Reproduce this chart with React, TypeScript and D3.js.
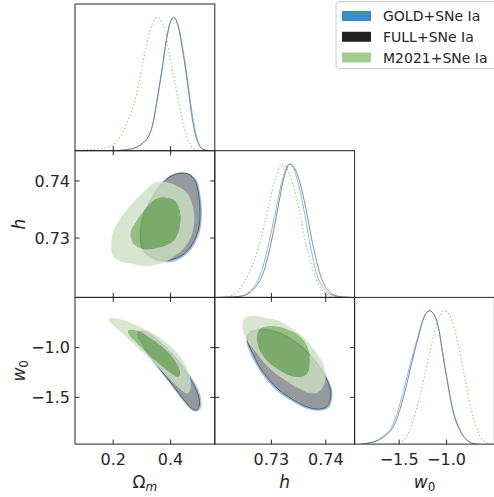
import React from "react";
import * as d3 from "d3";

// ---------- data ----------
const SERIES = ["GOLD+SNe Ia", "FULL+SNe Ia", "M2021+SNe Ia"];
const PARAM_LABELS = ["Ωm", "h", "w0"];
const OMEGA_TICKS = [0.2, 0.4];
const OMEGA_TICK_LABELS = ["0.2", "0.4"];
const H_TICKS = [0.73, 0.74];
const H_TICK_LABELS = ["0.73", "0.74"];
const W0_TICKS = [-1.5, -1.0];
const W0_TICK_LABELS = ["−1.5", "−1.0"];
const OMEGA_LIMITS = [0.0664, 0.5545];
const H_LIMITS = [0.7196, 0.7453];
const W0_LIMITS = [-1.97, -0.495];

// 1D marginals: [value, normalised density]
const OMEGA_GOLD_1D = [[0.2116,0],[0.2349,0.005],[0.2814,0.025],[0.3047,0.06],[0.3221,0.10],[0.3395,0.21],[0.3535,0.38],[0.3686,0.58],[0.3860,0.83],[0.3977,0.95],[0.4116,1.0],[0.4267,0.94],[0.4442,0.75],[0.4616,0.50],[0.4733,0.31],[0.4907,0.11],[0.5140,0.0125],[0.5372,0]];
const OMEGA_FULL_1D = [[0.2116,0],[0.2349,0.005],[0.2814,0.026],[0.3047,0.062],[0.3221,0.105],[0.3395,0.215],[0.3535,0.39],[0.3686,0.59],[0.3860,0.84],[0.3977,0.955],[0.4110,1.0],[0.4260,0.935],[0.4430,0.74],[0.4600,0.49],[0.4715,0.30],[0.4890,0.10],[0.5120,0.012],[0.5350,0]];
const OMEGA_M2021_1D = [[0.0700,0],[0.0953,0.005],[0.1651,0.02],[0.2000,0.045],[0.2465,0.20],[0.2814,0.425],[0.3047,0.675],[0.3279,0.90],[0.3535,1.0],[0.3802,0.90],[0.3977,0.70],[0.4209,0.45],[0.4442,0.20],[0.4674,0.05],[0.4907,0.005],[0.5100,0]];

const H_GOLD_1D = [[0.7205,0],[0.7241,0.008],[0.7266,0.07],[0.7284,0.22],[0.7296,0.42],[0.7309,0.67],[0.7321,0.895],[0.7333,1.0],[0.7345,0.92],[0.7358,0.695],[0.7370,0.42],[0.7382,0.195],[0.7398,0.058],[0.7419,0.008],[0.7440,0]];
const H_FULL_1D = [[0.7207,0],[0.7243,0.008],[0.7269,0.07],[0.7288,0.22],[0.7300,0.42],[0.7312,0.67],[0.7323,0.895],[0.7334,1.0],[0.7348,0.92],[0.7362,0.695],[0.7375,0.42],[0.7388,0.195],[0.7403,0.058],[0.7423,0.008],[0.7445,0]];
const H_M2021_1D = [[0.7200,0],[0.7223,0.008],[0.7247,0.095],[0.7272,0.32],[0.7290,0.595],[0.7306,0.87],[0.7320,1.0],[0.7336,0.895],[0.7349,0.695],[0.7364,0.395],[0.7382,0.145],[0.7401,0.025],[0.7419,0.003],[0.7440,0]];

const W0_GOLD_1D = [[-1.905,0],[-1.8345,0.0075],[-1.6937,0.045],[-1.5528,0.17],[-1.4648,0.37],[-1.3944,0.57],[-1.3063,0.795],[-1.2359,0.9575],[-1.1831,1.0],[-1.1303,0.97],[-1.0775,0.845],[-1.0423,0.695],[-0.9894,0.47],[-0.9366,0.27],[-0.8486,0.095],[-0.7430,0.0125],[-0.6725,0]];
const W0_FULL_1D = [[-1.89,0],[-1.82,0.0075],[-1.68,0.045],[-1.5352,0.17],[-1.4472,0.37],[-1.38,0.57],[-1.30,0.795],[-1.233,0.9575],[-1.18,1.0],[-1.13,0.97],[-1.0775,0.845],[-1.045,0.695],[-0.992,0.47],[-0.94,0.27],[-0.853,0.095],[-0.75,0.0125],[-0.68,0]];
const W0_M2021_1D = [[-1.62,0],[-1.5176,0.0075],[-1.4120,0.07],[-1.3239,0.245],[-1.2535,0.445],[-1.1831,0.67],[-1.0951,0.92],[-1.0176,1.0],[-0.9542,0.945],[-0.8838,0.77],[-0.8134,0.52],[-0.7430,0.27],[-0.6549,0.07],[-0.5669,0.005],[-0.514,0]];

// 2D contours: [x value, y value]
const OMEGA_H_GOLD_95 = [[0.429,0.7414],[0.465,0.7412],[0.490,0.7401],[0.502,0.7377],[0.508,0.7345],[0.502,0.7314],[0.481,0.7288],[0.450,0.7270],[0.406,0.7259],[0.357,0.7260],[0.320,0.7269],[0.298,0.7284],[0.293,0.7304],[0.300,0.7333],[0.323,0.7362],[0.358,0.7390],[0.393,0.7407]];
const OMEGA_H_FULL_95 = [[0.427,0.7413],[0.462,0.7412],[0.485,0.7401],[0.498,0.7377],[0.503,0.7345],[0.498,0.7316],[0.477,0.7290],[0.447,0.7272],[0.403,0.7262],[0.357,0.7262],[0.322,0.7270],[0.300,0.7284],[0.295,0.7304],[0.302,0.7333],[0.326,0.7362],[0.360,0.7388],[0.394,0.7406]];
const OMEGA_H_M2021_95 = [[0.345,0.7397],[0.386,0.7398],[0.421,0.7391],[0.456,0.7380],[0.476,0.7359],[0.483,0.7333],[0.473,0.7304],[0.444,0.7281],[0.398,0.7263],[0.351,0.7253],[0.310,0.7251],[0.264,0.7255],[0.223,0.7259],[0.198,0.7269],[0.193,0.7290],[0.200,0.7312],[0.223,0.7333],[0.258,0.7356],[0.299,0.7377]];
const OMEGA_H_M2021_68 = [[0.374,0.7371],[0.415,0.7365],[0.433,0.7345],[0.430,0.7316],[0.409,0.7295],[0.363,0.7284],[0.305,0.7281],[0.270,0.7290],[0.260,0.7310],[0.281,0.7330],[0.316,0.7353],[0.345,0.7367]];

const OMEGA_W0_GOLD_95 = [[0.287,-0.840],[0.312,-0.837],[0.342,-0.887],[0.400,-1.037],[0.448,-1.203],[0.490,-1.390],[0.505,-1.517],[0.504,-1.607],[0.493,-1.637],[0.472,-1.620],[0.442,-1.523],[0.407,-1.390],[0.361,-1.223],[0.326,-1.090],[0.302,-0.970],[0.286,-0.893]];
const OMEGA_W0_FULL_95 = [[0.287,-0.847],[0.310,-0.843],[0.340,-0.893],[0.398,-1.043],[0.444,-1.210],[0.485,-1.393],[0.500,-1.517],[0.499,-1.600],[0.491,-1.627],[0.473,-1.610],[0.444,-1.517],[0.409,-1.383],[0.363,-1.217],[0.328,-1.083],[0.305,-0.967],[0.288,-0.890]];
const OMEGA_W0_M2021_95 = [[0.183,-0.710],[0.212,-0.707],[0.252,-0.740],[0.293,-0.790],[0.340,-0.860],[0.386,-0.950],[0.427,-1.067],[0.456,-1.200],[0.470,-1.333],[0.467,-1.440],[0.456,-1.460],[0.427,-1.400],[0.392,-1.300],[0.351,-1.183],[0.310,-1.067],[0.270,-0.960],[0.229,-0.850],[0.194,-0.760]];
const OMEGA_W0_M2021_68 = [[0.252,-0.827],[0.287,-0.833],[0.334,-0.917],[0.380,-1.017],[0.415,-1.133],[0.433,-1.250],[0.427,-1.293],[0.403,-1.260],[0.363,-1.167],[0.322,-1.067],[0.281,-0.950],[0.256,-0.873]];

const H_W0_GOLD_95 = [[0.7257,-0.860],[0.7271,-0.820],[0.7293,-0.817],[0.7325,-0.870],[0.7368,-1.043],[0.7399,-1.273],[0.7411,-1.433],[0.7410,-1.533],[0.7404,-1.607],[0.7385,-1.630],[0.7363,-1.607],[0.7347,-1.563],[0.7310,-1.430],[0.7279,-1.227],[0.7260,-1.033],[0.7255,-0.933]];
const H_W0_FULL_95 = [[0.7258,-0.860],[0.7272,-0.827],[0.7293,-0.823],[0.7324,-0.877],[0.7367,-1.050],[0.7398,-1.277],[0.7409,-1.433],[0.7408,-1.527],[0.7402,-1.593],[0.7385,-1.617],[0.7364,-1.593],[0.7348,-1.550],[0.7312,-1.417],[0.7281,-1.217],[0.7263,-1.027],[0.7256,-0.933]];
const H_W0_M2021_95 = [[0.7250,-0.707],[0.7266,-0.680],[0.7290,-0.700],[0.7315,-0.733],[0.7336,-0.800],[0.7358,-0.890],[0.7376,-1.000],[0.7391,-1.117],[0.7399,-1.233],[0.7398,-1.350],[0.7388,-1.440],[0.7373,-1.460],[0.7355,-1.423],[0.7324,-1.323],[0.7293,-1.190],[0.7272,-1.050],[0.7256,-0.933],[0.7248,-0.833],[0.7247,-0.750]];
const H_W0_M2021_68 = [[0.7278,-0.817],[0.7299,-0.783],[0.7327,-0.810],[0.7352,-0.883],[0.7367,-1.000],[0.7370,-1.133],[0.7367,-1.250],[0.7355,-1.293],[0.7336,-1.283],[0.7312,-1.217],[0.7290,-1.117],[0.7278,-1.017],[0.7274,-0.900]];

// ---------- layout & style ----------
const W = 494, H = 497;
const LEFT = 75, TOP = 4, CW = 139.8, CH = 146.7;
const FONT = "DejaVu Sans, sans-serif";
const AX = "#262626";
const BLUE_FILL = "#9ccbe8", BLUE_LINE = "#78b4de";
const GRAY_FILL = "#96999d", GRAY_LINE = "#3f4a56";
const GREEN_OUT = "#cce0c2", GREEN_IN = "#75ad5f", GREEN_ALPHA = 0.78;
const LEGEND_COLORS = ["#3b8cc3", "#222222", "#a3cd8c"];

const LIMITS = [OMEGA_LIMITS, H_LIMITS, W0_LIMITS];
const TICKS = [OMEGA_TICKS, H_TICKS, W0_TICKS];
const TICK_LABELS = [OMEGA_TICK_LABELS, H_TICK_LABELS, W0_TICK_LABELS];
const MARGINALS = [
  [OMEGA_GOLD_1D, OMEGA_FULL_1D, OMEGA_M2021_1D],
  [H_GOLD_1D, H_FULL_1D, H_M2021_1D],
  [W0_GOLD_1D, W0_FULL_1D, W0_M2021_1D],
];
const CONTOURS: Record<string, any> = {
  "1-0": { gold: OMEGA_H_GOLD_95, full: OMEGA_H_FULL_95, m95: OMEGA_H_M2021_95, m68: OMEGA_H_M2021_68 },
  "2-0": { gold: OMEGA_W0_GOLD_95, full: OMEGA_W0_FULL_95, m95: OMEGA_W0_M2021_95, m68: OMEGA_W0_M2021_68 },
  "2-1": { gold: H_W0_GOLD_95, full: H_W0_FULL_95, m95: H_W0_M2021_95, m68: H_W0_M2021_68 },
};

const xScale = (c: number) => d3.scaleLinear().domain(LIMITS[c]).range([LEFT + c * CW, LEFT + (c + 1) * CW]);
const yScale = (r: number) => d3.scaleLinear().domain(LIMITS[r]).range([TOP + (r + 1) * CH, TOP + r * CH]);
const yDens = (r: number) => d3.scaleLinear().domain([0, 1.1]).range([TOP + (r + 1) * CH, TOP + r * CH]);

function Panel({ r, c }: { r: number; c: number }) {
  const x = xScale(c);
  const x0 = LEFT + c * CW, y0 = TOP + r * CH;
  const id = `clip-${r}-${c}`;
  const TL = 4.5;
  const ticks: any[] = [];
  const diag = r === c;
  TICKS[c].forEach((t, i) => {
    const px = x(t);
    ticks.push(<line key={`xb${i}`} x1={px} x2={px} y1={y0 + CH} y2={y0 + CH - TL} stroke={AX} strokeWidth={1} />);
    if (!diag) ticks.push(<line key={`xt${i}`} x1={px} x2={px} y1={y0} y2={y0 + TL} stroke={AX} strokeWidth={1} />);
  });
  let content: any = null;
  if (diag) {
    const yd = yDens(r);
    const line = d3.line<number[]>().x((d) => x(d[0])).y((d) => yd(d[1])).curve(d3.curveMonotoneX);
    const [g, f, m] = MARGINALS[r];
    content = (
      <g clipPath={`url(#${id})`}>
        <path d={line(g as any) || ""} fill="none" stroke={BLUE_LINE} strokeWidth={0.9} />
        <path d={line(f as any) || ""} fill="none" stroke="#6b7076" strokeWidth={0.8} />
        <path d={line(m as any) || ""} fill="none" stroke="#93c878" strokeWidth={1.2} strokeDasharray="1.2,2.4" />
      </g>
    );
  } else {
    const y = yScale(r);
    TICKS[r].forEach((t, i) => {
      const py = y(t);
      ticks.push(<line key={`yl${i}`} x1={x0} x2={x0 + TL} y1={py} y2={py} stroke={AX} strokeWidth={1} />);
      ticks.push(<line key={`yr${i}`} x1={x0 + CW} x2={x0 + CW - TL} y1={py} y2={py} stroke={AX} strokeWidth={1} />);
    });
    const cl = d3.line<number[]>().x((d) => x(d[0])).y((d) => y(d[1])).curve(d3.curveCatmullRomClosed.alpha(0.5));
    const C = CONTOURS[`${r}-${c}`];
    content = (
      <g clipPath={`url(#${id})`}>
        <path d={cl(C.gold) || ""} fill={BLUE_FILL} stroke={BLUE_LINE} strokeWidth={0.7} />
        <path d={cl(C.full) || ""} fill={GRAY_FILL} stroke={GRAY_LINE} strokeWidth={0.8} />
        <path d={(cl(C.m95) || "") + (cl(C.m68) || "")} fill={GREEN_OUT} fillRule="evenodd" fillOpacity={GREEN_ALPHA} />
        <path d={cl(C.m68) || ""} fill={GREEN_IN} fillOpacity={GREEN_ALPHA} />
      </g>
    );
  }
  return (
    <g>
      <defs>
        <clipPath id={id}>
          <rect x={x0} y={y0} width={CW} height={CH} />
        </clipPath>
      </defs>
      {content}
      {ticks}
      <rect x={x0} y={y0} width={CW} height={CH} fill="none" stroke={AX} strokeWidth={1} />
    </g>
  );
}

export default function App() {
  const panels: any[] = [];
  for (let r = 0; r < 3; r++) for (let c = 0; c <= r; c++) panels.push(<Panel key={`${r}-${c}`} r={r} c={c} />);
  const bottom = TOP + 3 * CH;
  return (
    <svg width={W} height={H} style={{ position: "absolute", left: 0, top: 0, background: "#fff" }} fontFamily={FONT}>
      <rect x={0} y={0} width={W} height={H} fill="#fff" />
      {panels}
      {[0, 1, 2].map((c) => {
        const x = xScale(c);
        return TICKS[c].map((t, i) => (
          <text key={`xl${c}${i}`} x={x(t)} y={bottom + 21} fontSize={16} textAnchor="middle" fill={AX}>{TICK_LABELS[c][i]}</text>
        ));
      })}
      {[1, 2].map((r) => {
        const y = yScale(r);
        return TICKS[r].map((t, i) => (
          <text key={`yl${r}${i}`} x={LEFT - 5} y={y(t)} dy="0.36em" fontSize={16} textAnchor="end" fill={AX}>{TICK_LABELS[r][i]}</text>
        ));
      })}
      <text x={LEFT + 0.5 * CW} y={bottom + 44} fontSize={17} textAnchor="middle" fill={AX}>
        <tspan>Ω</tspan><tspan fontStyle="italic" fontSize={12} dy={3}>m</tspan>
      </text>
      <text x={LEFT + 1.5 * CW} y={bottom + 44} fontSize={17} textAnchor="middle" fill={AX} fontStyle="italic">{PARAM_LABELS[1]}</text>
      <text x={LEFT + 2.5 * CW} y={bottom + 44} fontSize={17} textAnchor="middle" fill={AX}>
        <tspan fontStyle="italic">w</tspan><tspan fontSize={12} dy={3}>0</tspan>
      </text>
      <text transform={`translate(25,${TOP + 1.5 * CH}) rotate(-90)`} fontSize={17} textAnchor="middle" fill={AX} fontStyle="italic">{PARAM_LABELS[1]}</text>
      <text transform={`translate(25,${TOP + 2.5 * CH}) rotate(-90)`} fontSize={17} textAnchor="middle" fill={AX}>
        <tspan fontStyle="italic">w</tspan><tspan fontSize={12} dy={3}>0</tspan>
      </text>
      <g>
        <rect x={336} y={1.5} width={162} height={67} rx={3} fill="#fff" fillOpacity={0.8} stroke="#cccccc" strokeWidth={1} />
        {SERIES.map((s, i) => {
          const cy = 16 + i * 20.75;
          return (
            <g key={s}>
              <rect x={342} y={cy - 5} width={29} height={10} fill={LEGEND_COLORS[i]} />
              <text x={383} y={cy + 5} fontSize={14} fill={AX}>{s}</text>
            </g>
          );
        })}
      </g>
    </svg>
  );
}
